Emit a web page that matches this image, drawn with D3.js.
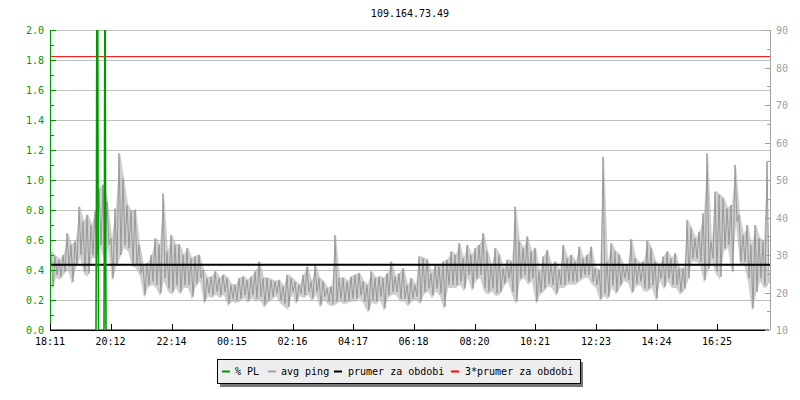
<!DOCTYPE html>
<html><head><meta charset="utf-8">
<script src="https://cdn.jsdelivr.net/npm/d3@7"></script>
<style>
body{margin:0;background:#fff}
svg{display:block}
text{font-family:"DejaVu Sans Mono",monospace;font-size:10px}
</style>
</head><body><svg id="c" width="800" height="400"></svg>
<script>
const title = "109.164.73.49";
const timeTickMinutes = [0,121,243,364,485,606,727,849,970,1092,1213,1334];
const timeTickLabels = ["18:11","20:12","22:14","00:15","02:16","04:17","06:18","08:20","10:21","12:23","14:24","16:25"];
const plTicks = [0,0.2,0.4,0.6,0.8,1.0,1.2,1.4,1.6,1.8,2.0];
const pingTicks = [10,20,30,40,50,60,70,80,90];
// avg ping, per 8-minute bin: highest and lowest sample (ms)
const pingHigh = [
30.9,29.6,28.7,30.0,35.8,32.7,33.6,42.9,38.9,40.7,38.0,41.6,47.8,48.7,44.2,34.4,42.4,57.1,50.4,43.3,41.6,42.0,32.7,27.3,27.8,30.0,34.4,32.7,46.4,30.9,35.3,32.7,32.7,30.0,31.8,29.1,
29.6,30.0,26.0,23.8,24.2,25.6,23.8,24.7,23.8,22.0,22.0,23.8,24.2,23.3,24.2,25.6,28.2,23.8,23.8,23.3,22.9,23.3,21.6,24.7,23.8,22.9,22.0,24.7,26.9,22.9,27.3,23.8,22.9,21.1,21.6,35.3,
23.8,23.8,22.9,24.2,24.7,25.1,22.9,22.0,25.6,23.8,24.2,23.8,25.1,28.2,24.2,25.1,26.4,22.0,23.8,22.0,29.6,29.1,28.7,25.1,27.3,26.9,28.2,28.7,30.9,30.0,33.1,29.1,32.7,30.0,31.8,32.7,
35.8,30.9,27.3,31.8,30.0,26.4,28.7,28.2,42.9,33.6,31.8,34.9,30.9,31.8,25.6,29.6,31.3,27.3,28.2,26.0,32.7,29.1,30.0,28.2,32.2,29.1,30.0,32.2,26.4,26.0,56.2,28.2,33.1,30.9,30.0,27.3,
27.3,34.2,29.1,27.8,28.2,33.8,31.8,28.2,27.3,29.6,30.9,29.1,30.4,26.4,26.4,39.3,37.1,34.4,36.2,41.1,57.1,33.6,46.9,46.0,45.1,42.4,43.3,54.0,40.7,35.3,38.0,32.7,38.0,34.4,33.6,54.9];
const pingLow = [
21.6,24.7,24.2,25.6,26.9,22.9,27.3,30.0,25.6,25.1,30.0,30.0,32.7,30.0,32.7,23.8,27.3,30.0,32.7,31.8,27.8,27.3,25.1,19.3,22.0,22.9,22.0,19.8,23.8,21.1,20.2,22.0,20.2,22.0,22.0,18.9,
22.4,23.8,17.6,19.8,19.3,20.2,19.3,20.2,17.1,18.4,18.0,18.4,19.3,18.0,19.3,18.4,18.9,16.7,18.0,18.9,19.8,18.0,17.1,16.2,20.2,17.6,19.8,19.3,20.2,18.4,20.2,16.7,18.9,17.6,17.1,17.6,
18.4,17.6,18.0,18.4,18.4,19.3,17.6,15.3,18.0,17.6,18.9,15.8,19.3,20.2,20.2,18.4,18.4,17.1,18.4,18.9,17.6,20.2,21.1,19.3,21.1,19.8,16.2,22.0,22.0,22.0,22.9,21.1,24.7,21.1,23.8,24.7,
21.1,20.2,21.1,19.8,20.2,22.4,23.8,20.2,17.6,23.8,24.7,22.9,23.8,17.6,20.2,21.1,22.4,22.0,19.8,22.0,22.0,22.9,22.9,22.9,23.8,24.7,24.7,22.9,22.0,18.4,19.8,18.9,22.0,20.2,22.0,23.8,
23.3,20.2,22.4,22.9,21.1,21.1,22.0,18.4,23.8,21.6,23.8,22.0,22.0,20.2,21.1,23.8,29.1,29.1,28.2,23.3,26.4,29.1,25.6,24.2,31.8,32.7,25.6,38.9,28.2,28.2,23.8,15.8,20.2,23.8,22.0,22.4];
const binStart = 2, binStep = 8; // minutes after 18:11
// packet loss (%) samples
const plMinutes = [0,92,93,94,95,96,97,108,109,110,111,112,1438];
const plValues  = [0,0,1.0,3.0,3.0,1.0,0,0,1.0,3.0,1.0,0,0];
const prumer = 27.4;
const triplePrumer = 82.9;
const legendLabels = ["% PL","avg ping","prumer za obdobi","3*prumer za obdobi"];
const legendColors = ["#009900","#a0a0a0","#000000","#ff0000"];

const svg = d3.select("#c");
const L=50, R=770, T=30, B=330;
const x = d3.scaleLinear().domain([0,1440]).range([L,R]);
const yPL = d3.scaleLinear().domain([0,2]).range([B,T]);
const yPing = d3.scaleLinear().domain([10,90]).range([B,T]);

svg.append("defs").append("clipPath").attr("id","clip")
  .append("rect").attr("x",L).attr("y",T).attr("width",R-L).attr("height",B-T);

// grid
svg.append("g").selectAll("line").data(plTicks.filter(d=>d>0)).join("line")
  .attr("x1",L).attr("x2",R).attr("y1",d=>Math.round(yPL(d))+0.5).attr("y2",d=>Math.round(yPL(d))+0.5)
  .attr("stroke","#c0c0c0").attr("stroke-width",1);

const plot = svg.append("g").attr("clip-path","url(#clip)");

// ping: band between bin low/high plus zigzag through the samples
const bins = pingHigh.map((h,i)=>({t: binStart + binStep*i + binStep/4, hi:h, lo:pingLow[i]}));
plot.append("path").datum(bins)
  .attr("d",d3.area().x(d=>x(d.t)).y0(d=>yPing(d.lo)+3).y1(d=>yPing(d.hi)-1))
  .attr("fill","#a8a8a8").attr("opacity",0.55);
const pts = [];
bins.forEach((b,i)=>{
  const t = binStart + binStep*i;
  pts.push([t,b.hi]); pts.push([t+binStep/2,b.lo]);
});
plot.append("path").datum(pts)
  .attr("d",d3.line().x(d=>x(d[0])).y(d=>yPing(d[1])))
  .attr("fill","none").attr("stroke","#999999").attr("stroke-width",1);

plot.append("line").attr("x1",L).attr("x2",R)
  .attr("y1",yPing(prumer)).attr("y2",yPing(prumer)).attr("stroke","#000").attr("stroke-width",2);
plot.append("line").attr("x1",L).attr("x2",R)
  .attr("y1",yPing(triplePrumer)).attr("y2",yPing(triplePrumer)).attr("stroke","#ff0000").attr("stroke-width",1);

plot.append("path").datum(plMinutes.map((m,i)=>[m,plValues[i]]))
  .attr("d",d3.line().x(d=>x(d[0])).y(d=>yPL(d[1])))
  .attr("fill","none").attr("stroke","#009900").attr("stroke-width",1.6);

// left axis
const green="#009900";
svg.append("line").attr("x1",L+0.5).attr("x2",L+0.5).attr("y1",T).attr("y2",B).attr("stroke",green);
const plMinor = d3.range(0,21).map(i=>i/10);
svg.append("g").selectAll("line").data(plMinor).join("line")
  .attr("x1",L).attr("x2",(d,i)=> i%2===0 ? L+6 : L+4)
  .attr("y1",d=>Math.round(yPL(d))+0.5).attr("y2",d=>Math.round(yPL(d))+0.5)
  .attr("stroke",green);
svg.append("g").selectAll("text").data(plTicks).join("text")
  .attr("x",44).attr("y",d=>yPL(d)+4).attr("text-anchor","end").attr("fill",green)
  .text(d=>d3.format(".1f")(d));

// right axis
const grey="#a0a0a0";
svg.append("line").attr("x1",R+0.5).attr("x2",R+0.5).attr("y1",T).attr("y2",B).attr("stroke",grey);
const pingMinor = d3.range(10,91,5);
svg.append("g").selectAll("line").data(pingMinor).join("line")
  .attr("x1",R).attr("x2",d=> d%10===0 ? R-5 : R-3)
  .attr("y1",d=>Math.round(yPing(d))+0.5).attr("y2",d=>Math.round(yPing(d))+0.5)
  .attr("stroke",grey);
svg.append("g").selectAll("text").data(pingTicks).join("text")
  .attr("x",776).attr("y",d=>yPing(d)+4).attr("fill",grey).text(d=>d);

// bottom axis
svg.append("line").attr("x1",L).attr("x2",765).attr("y1",B+0.5).attr("y2",B+0.5).attr("stroke","#000");
svg.append("g").selectAll("line").data(timeTickMinutes).join("line")
  .attr("x1",d=>Math.round(x(d))+0.5).attr("x2",d=>Math.round(x(d))+0.5)
  .attr("y1",B-6).attr("y2",B).attr("stroke","#000");
svg.append("g").selectAll("text").data(timeTickMinutes).join("text")
  .attr("x",d=>x(d)).attr("y",345).attr("text-anchor","middle").attr("fill","#000")
  .text((d,i)=>timeTickLabels[i]);

// title
svg.append("text").attr("x",(L+R)/2).attr("y",17).attr("text-anchor","middle").attr("fill","#000").text(title);

// legend
const lg = svg.append("g");
lg.append("rect").attr("x",220).attr("y",362).attr("width",363).attr("height",25).attr("fill","#777");
lg.append("rect").attr("x",217.5).attr("y",359.5).attr("width",363).attr("height",24).attr("fill","#eeeeee").attr("stroke","#000");
const swX=[222,268,334,451], txX=[235,281,348,465];
legendLabels.forEach((s,i)=>{
  lg.append("rect").attr("x",swX[i]).attr("y",370.5).attr("width",8).attr("height",2).attr("fill",legendColors[i]);
  lg.append("text").attr("x",txX[i]).attr("y",374.5).attr("fill","#000").text(s);
});
</script>
</body></html>
